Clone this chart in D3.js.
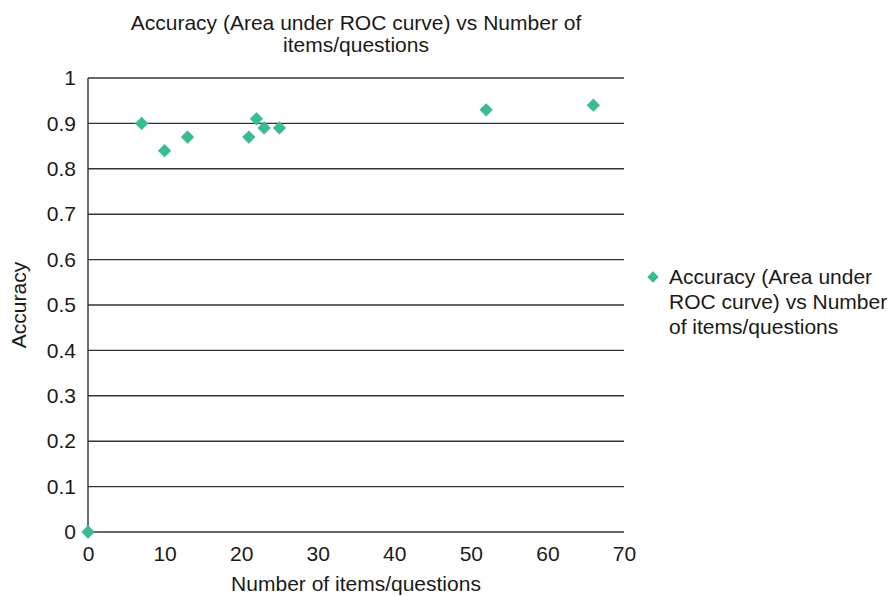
<!DOCTYPE html>
<html lang="en">
<head>
    <meta charset="UTF-8">
    <title>Accuracy vs Number of items</title>
    <script src="https://d3js.org/d3.v7.min.js"></script>
    <style>
        body {
            margin: 0;
            padding: 0;
            background-color: #ffffff;
            overflow: hidden;
        }

        svg {
            display: block;
        }

        text {
            font-family: "Liberation Sans", Arial, sans-serif;
            fill: #1a1a1a;
        }
    </style>
</head>
<body>
    <script>
        // Data
        const numItems = [0, 7, 10, 13, 21, 22, 23, 25, 52, 66];
        const accuracy = [0, 0.90, 0.84, 0.87, 0.87, 0.91, 0.89, 0.89, 0.93, 0.94];
        const xTicks = [0, 10, 20, 30, 40, 50, 60, 70];
        const yTicks = [0, 0.1, 0.2, 0.3, 0.4, 0.5, 0.6, 0.7, 0.8, 0.9, 1];
        const titleLines = ["Accuracy (Area under ROC curve) vs Number of", "items/questions"];
        const legendLines = ["Accuracy (Area under", "ROC curve) vs Number", "of items/questions"];

        const width = 893;
        const height = 596;
        const margin = { top: 78, right: 269, bottom: 64, left: 88 };
        const plotW = width - margin.left - margin.right;
        const plotH = height - margin.top - margin.bottom;
        const pointColor = "#36bd92";
        const gridColor = "#333333";
        const fontSize = "21px";

        const svg = d3.select("body").append("svg")
            .attr("width", width)
            .attr("height", height);

        const x = d3.scaleLinear().domain([0, 70]).range([0, plotW]);
        const y = d3.scaleLinear().domain([0, 1]).range([plotH, 0]);

        const g = svg.append("g")
            .attr("transform", `translate(${margin.left},${margin.top})`);

        // Horizontal gridlines
        g.selectAll(".grid")
            .data(yTicks)
            .enter().append("line")
            .attr("class", "grid")
            .attr("x1", 0)
            .attr("x2", plotW)
            .attr("y1", d => y(d))
            .attr("y2", d => y(d))
            .style("stroke", gridColor)
            .style("stroke-width", 1.4);

        // Y axis (labels only, line drawn separately)
        const yAxis = g.append("g")
            .call(d3.axisLeft(y).tickValues(yTicks).tickSize(0).tickPadding(12)
                .tickFormat(d => d3.format("~g")(d)));
        yAxis.select(".domain").remove();
        yAxis.selectAll("text")
            .style("font-size", fontSize)
            .style("font-family", '"Liberation Sans", Arial, sans-serif')
            .attr("fill", "#1a1a1a");

        // X axis
        const xAxis = g.append("g")
            .attr("transform", `translate(0,${plotH})`)
            .call(d3.axisBottom(x).tickValues(xTicks).tickSize(0).tickPadding(14));
        xAxis.select(".domain").remove();
        xAxis.selectAll("text")
            .style("font-size", fontSize)
            .style("font-family", '"Liberation Sans", Arial, sans-serif')
            .attr("fill", "#1a1a1a");

        // Vertical axis line
        g.append("line")
            .attr("x1", x(0)).attr("x2", x(0))
            .attr("y1", 0).attr("y2", plotH)
            .style("stroke", gridColor)
            .style("stroke-width", 1.4);

        // Points
        const diamond = d3.symbol().type(d3.symbolSquare).size(88);
        g.selectAll(".pt")
            .data(numItems.map((n, i) => ({ n, a: accuracy[i] })))
            .enter().append("path")
            .attr("class", "pt")
            .attr("d", diamond)
            .attr("transform", d => `translate(${x(d.n)},${y(d.a)}) rotate(45)`)
            .attr("fill", pointColor);

        // Title
        svg.append("text")
            .attr("text-anchor", "middle")
            .attr("x", margin.left + plotW / 2)
            .attr("y", 30)
            .style("font-size", fontSize)
            .selectAll("tspan")
            .data(titleLines)
            .enter().append("tspan")
            .attr("x", margin.left + plotW / 2)
            .attr("dy", (d, i) => i === 0 ? 0 : 22)
            .text(d => d);

        // Axis titles
        svg.append("text")
            .attr("text-anchor", "middle")
            .attr("x", margin.left + plotW / 2)
            .attr("y", 591)
            .style("font-size", fontSize)
            .text("Number of items/questions");

        svg.append("text")
            .attr("text-anchor", "middle")
            .attr("transform", `translate(26,${margin.top + plotH / 2}) rotate(-90)`)
            .style("font-size", fontSize)
            .text("Accuracy");

        // Legend
        const legend = svg.append("g").attr("transform", "translate(653,277)");
        legend.append("path")
            .attr("d", d3.symbol().type(d3.symbolSquare).size(64))
            .attr("transform", "rotate(45)")
            .attr("fill", pointColor);
        legend.append("text")
            .attr("x", 16)
            .attr("y", 7)
            .style("font-size", fontSize)
            .selectAll("tspan")
            .data(legendLines)
            .enter().append("tspan")
            .attr("x", 16)
            .attr("dy", (d, i) => i === 0 ? 0 : 25)
            .text(d => d);
    </script>
</body>
</html>
